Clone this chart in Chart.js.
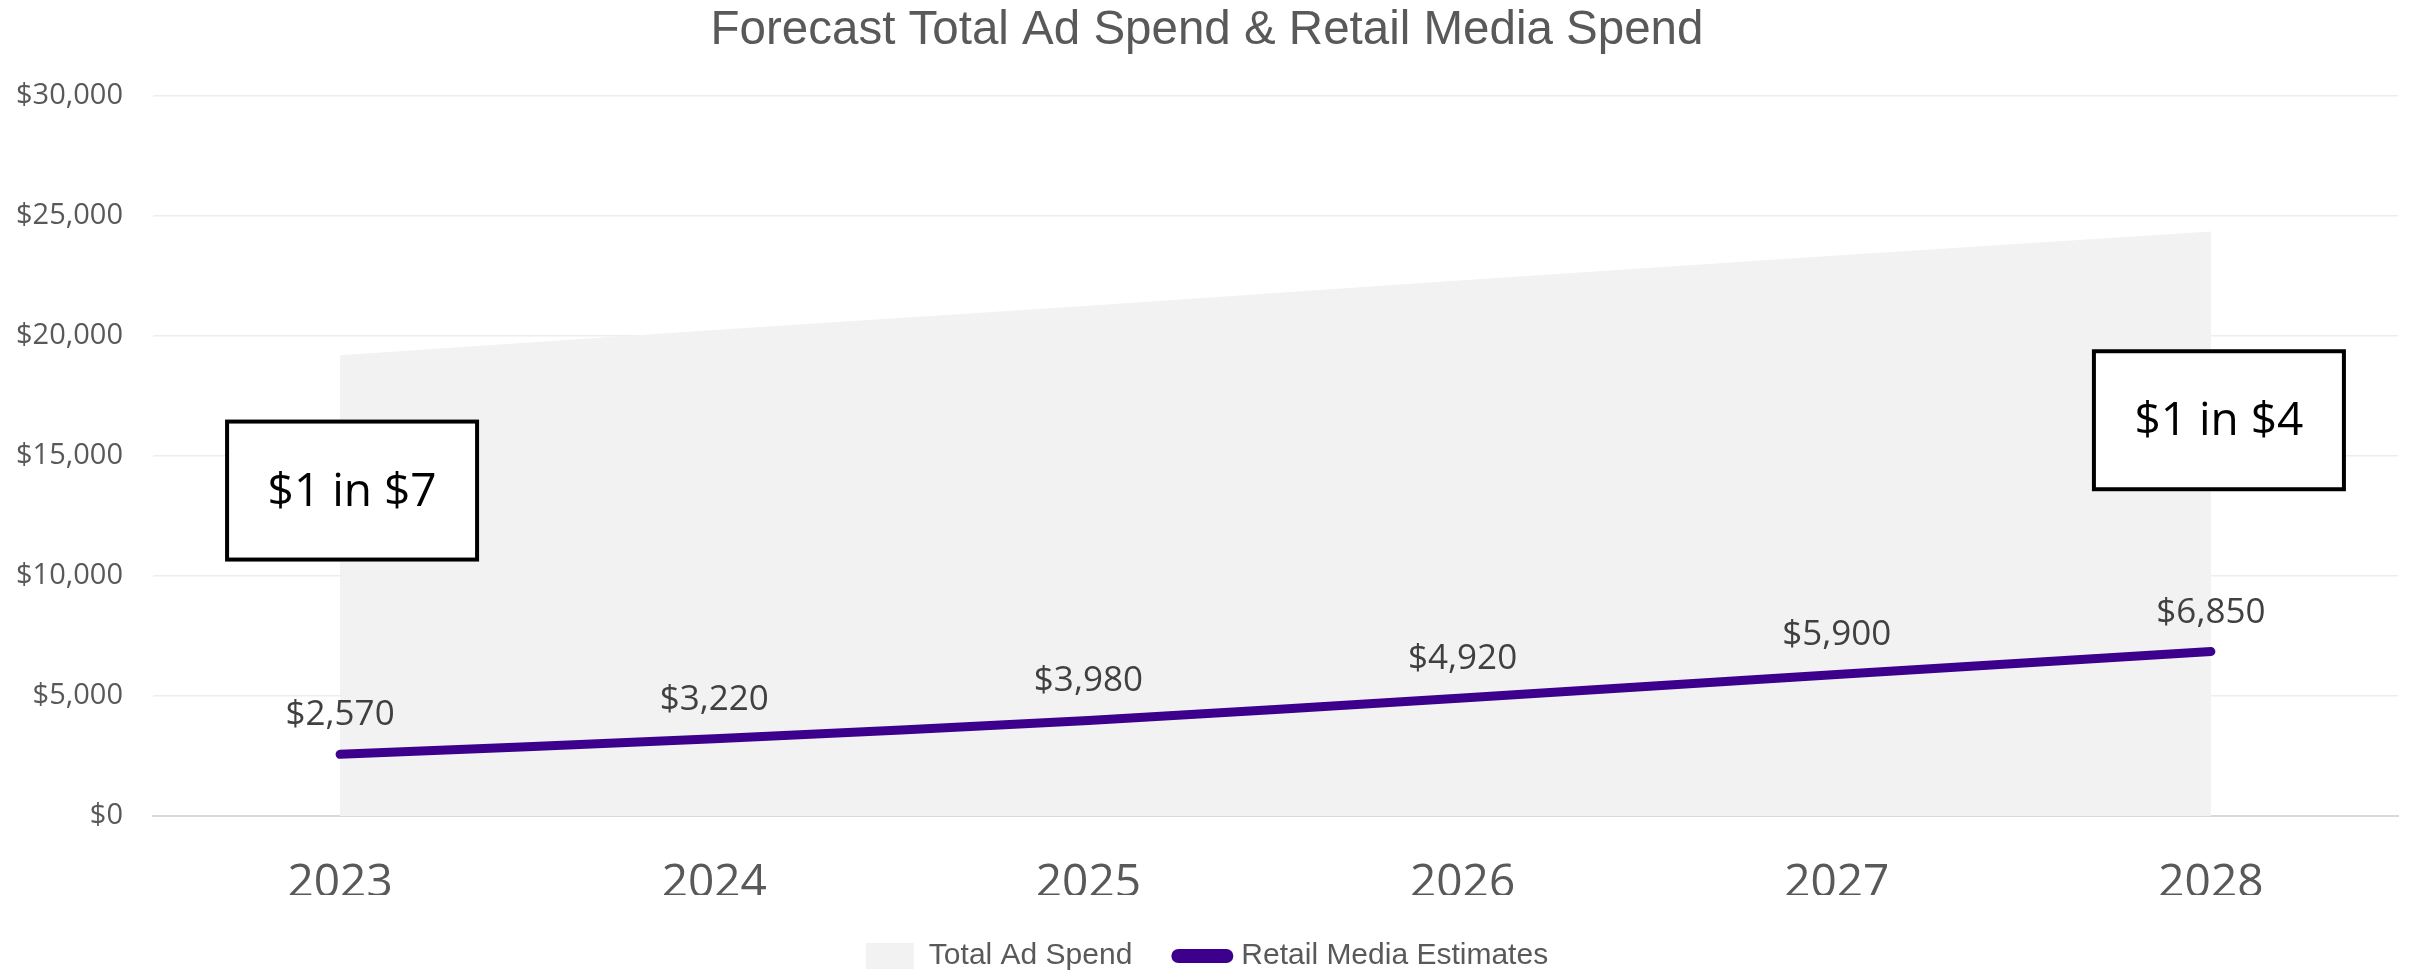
<!DOCTYPE html>
<html>
<head>
<meta charset="utf-8">
<script src="https://cdn.jsdelivr.net/npm/chart.js@4.4.1/dist/chart.umd.min.js"></script>
<style>
  html, body { margin: 0; padding: 0; background: #ffffff; }
  canvas { display: block; }
</style>
</head>
<body>
<canvas id="chart" width="2413" height="970"></canvas>
<script>
// ---- Data ----
const categories = ['2023', '2024', '2025', '2026', '2027', '2028'];
const totalAdSpend = [19200, 20250, 21260, 22320, 23350, 24350];
const retailMedia = [2570, 3220, 3980, 4920, 5900, 6850];
const yTickValues = [0, 5000, 10000, 15000, 20000, 25000, 30000];
const seriesNames = ['Total Ad Spend', 'Retail Media Estimates'];
const calloutTexts = ['$1 in $7', '$1 in $4'];
const titleText = 'Forecast Total Ad Spend & Retail Media Spend';

// ---- Styles ----
const AREA_COLOR = '#f2f2f2';
const LINE_COLOR = '#3c008c';
const TEXT_GREY = '#595959';
const NUM_FONT = '"Open Sans", "Noto Sans", sans-serif';
const SANS_FONT = '"Liberation Sans", Arial, sans-serif';

const fmt = v => '$' + v.toLocaleString('en-US');

const valueLabels = {
  id: 'valueLabels',
  afterDatasetsDraw(chart, args, opts) {
    const meta = chart.getDatasetMeta(opts.datasetIndex);
    const ds = chart.data.datasets[opts.datasetIndex];
    const ctx = chart.ctx;
    ctx.save();
    ctx.font = opts.font;
    ctx.fillStyle = opts.color;
    ctx.textAlign = 'center';
    ctx.textBaseline = 'middle';
    meta.data.forEach((pt, i) => {
      ctx.fillText(fmt(ds.data[i]), pt.x, pt.y - opts.offset);
    });
    ctx.restore();
  }
};

const callouts = {
  id: 'callouts',
  afterDraw(chart, args, opts) {
    const ctx = chart.ctx;
    const xs = chart.scales.x, ys = chart.scales.y;
    ctx.save();
    opts.items.forEach(it => {
      const cx = xs.getPixelForValue(it.index) + it.dx;
      const cy = ys.getPixelForValue(it.value);
      const w = opts.width, h = opts.height, bw = opts.borderWidth;
      ctx.fillStyle = '#ffffff';
      ctx.fillRect(cx - w / 2, cy - h / 2, w, h);
      ctx.lineWidth = bw;
      ctx.strokeStyle = '#000000';
      ctx.strokeRect(cx - w / 2 + bw / 2, cy - h / 2 + bw / 2, w - bw, h - bw);
      ctx.font = opts.font;
      ctx.fillStyle = '#000000';
      ctx.textAlign = 'center';
      ctx.textBaseline = 'middle';
      ctx.fillText(it.text, cx, cy + 2);
    });
    ctx.restore();
  }
};

new Chart(document.getElementById('chart'), {
  type: 'line',
  data: {
    labels: categories,
    datasets: [
      {
        label: seriesNames[0],
        data: totalAdSpend,
        fill: 'origin',
        backgroundColor: AREA_COLOR,
        borderColor: AREA_COLOR,
        borderWidth: 0,
        pointRadius: 0,
        tension: 0,
        order: 2
      },
      {
        label: seriesNames[1],
        data: retailMedia,
        fill: false,
        borderColor: LINE_COLOR,
        backgroundColor: LINE_COLOR,
        borderWidth: 9,
        borderCapStyle: 'round',
        borderJoinStyle: 'round',
        pointRadius: 0,
        tension: 0.25,
        order: 1
      }
    ]
  },
  options: {
    responsive: false,
    animation: false,
    layout: { padding: { left: 16, right: 15, top: 0, bottom: -11 } },
    scales: {
      x: {
        offset: true,
        z: 1,
        grid: { display: false, drawTicks: false },
        border: { display: true, color: '#d9d9d9', width: 2 },
        ticks: {
          color: TEXT_GREY,
          padding: 56,
          font: { family: NUM_FONT, size: 46, lineHeight: 0.5 }
        },
        afterFit: axis => { axis.height -= axis.options.ticks.padding; }
      },
      y: {
        min: 0,
        max: 30000,
        afterBuildTicks: axis => { axis.ticks = yTickValues.map(v => ({ value: v })); },
        grid: { color: '#ededed', lineWidth: 1.5, drawTicks: false },
        border: { display: false },
        ticks: {
          color: TEXT_GREY,
          padding: 30,
          font: { family: NUM_FONT, size: 29 },
          callback: v => fmt(v)
        },
        afterFit: axis => { axis.width -= axis.options.ticks.padding; }
      }
    },
    plugins: {
      title: {
        display: true,
        text: titleText,
        color: TEXT_GREY,
        font: { family: SANS_FONT, size: 47.5, weight: 'normal', lineHeight: 1.2 },
        padding: { top: 2, bottom: 37 }
      },
      legend: {
        display: true,
        position: 'bottom',
        labels: {
          color: TEXT_GREY,
          font: { family: SANS_FONT, size: 30 },
          usePointStyle: true,
          pointStyleWidth: 48,
          boxHeight: 26,
          padding: 46,
          generateLabels: chart => chart.data.datasets.map((ds, i) => i === 0 ? {
            text: ds.label, datasetIndex: i, hidden: false,
            fillStyle: AREA_COLOR, strokeStyle: AREA_COLOR, lineWidth: 0,
            pointStyle: 'rect', fontColor: TEXT_GREY
          } : {
            text: ds.label, datasetIndex: i, hidden: false,
            fillStyle: LINE_COLOR, strokeStyle: LINE_COLOR, lineWidth: 14,
            lineCap: 'round', pointStyle: 'line', fontColor: TEXT_GREY
          })
        }
      },
      tooltip: { enabled: false },
      valueLabels: { datasetIndex: 1, offset: 39, font: '35px ' + NUM_FONT, color: '#404040' },
      callouts: {
        width: 254, height: 142, borderWidth: 4,
        font: '46px ' + NUM_FONT,
        items: [
          { text: calloutTexts[0], index: 0, value: 13560, dx: 12 },
          { text: calloutTexts[1], index: 5, value: 16490, dx: 8 }
        ]
      }
    }
  },
  plugins: [valueLabels, callouts]
});
</script>
</body>
</html>
